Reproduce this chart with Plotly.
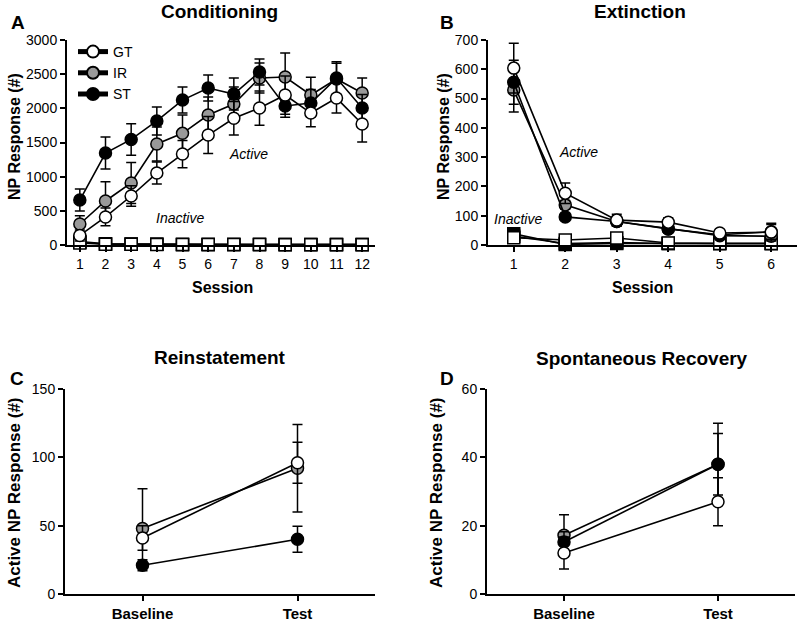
import plotly.graph_objects as go

# ---------------- data ----------------
groups = ["GT", "IR", "ST"]
group_fill = {"GT": "white", "IR": "#999999", "ST": "black"}

sessions_cond = [1, 2, 3, 4, 5, 6, 7, 8, 9, 10, 11, 12]
cond_active_gt = [140, 410, 717, 1053, 1331, 1609, 1855, 2004, 2195, 1931, 2150, 1770]
cond_active_ir = [307, 644, 907, 1478, 1634, 1902, 2063, 2443, 2458, 2195, 2430, 2224]
cond_active_st = [658, 1346, 1545, 1815, 2121, 2297, 2209, 2531, 2034, 2077, 2443, 2004]
cond_err_gt = [80, 130, 150, 160, 200, 270, 246, 250, 280, 200, 220, 263]
cond_err_ir = [120, 280, 300, 250, 270, 263, 250, 220, 350, 260, 230, 220]
cond_err_st = [160, 234, 230, 204, 190, 190, 234, 190, 165, 200, 240, 200]
cond_inact_gt = [30, 12, 10, 8, 6, 6, 6, 6, 5, 5, 5, 5]
cond_inact_ir = [40, 15, 12, 10, 8, 8, 7, 7, 6, 6, 6, 6]
cond_inact_st = [50, 18, 14, 10, 9, 8, 8, 7, 7, 6, 6, 6]

sessions_ext = [1, 2, 3, 4, 5, 6]
ext_active_gt = [604, 177, 85, 78, 41, 44]
ext_active_ir = [529, 137, 80, 55, 32, 30]
ext_active_st = [556, 96, 80, 55, 35, 45]
ext_err_gt = [85, 35, 20, 15, 8, 30]
ext_err_ir = [75, 15, 15, 12, 8, 10]
ext_err_st = [75, 8, 10, 10, 8, 25]
ext_inact_gt = [25, 17, 24, 7, 5, 5]
ext_inact_ir = [30, 5, 8, 5, 5, 5]
ext_inact_st = [38, 2, 5, 5, 5, 5]

phases = ["Baseline", "Test"]
rein_gt = [41, 96]
rein_ir = [48, 92]
rein_st = [21, 40]
rein_err_gt = [9, 15]
rein_err_ir = [29, 32]
rein_err_st = [4, 9.5]

spont_gt = [12, 27]
spont_ir = [17.2, 38]
spont_st = [15.2, 38]
spont_err_gt = [4.7, 7]
spont_err_ir = [6, 9]
spont_err_st = [3, 12]

# ---------------- figure ----------------
FONT = "Arial, Liberation Sans, sans-serif"
W, H = 800, 621
fig = go.Figure()

def add_series(x, y, err, grp, xa, ya, symbol="circle", legend=False):
    fig.add_trace(go.Scatter(
        x=x, y=y, mode="lines+markers", name=grp, showlegend=legend,
        xaxis=xa, yaxis=ya, cliponaxis=False,
        line=dict(color="black", width=1.6),
        marker=dict(symbol=symbol, size=12, color=group_fill[grp],
                    line=dict(color="black", width=1.5)),
        error_y=(dict(type="data", array=err, color="black", thickness=1.5, width=5)
                 if err is not None else None),
    ))

order = ["IR", "ST", "GT"]
A = {"GT": (cond_active_gt, cond_err_gt, cond_inact_gt),
     "IR": (cond_active_ir, cond_err_ir, cond_inact_ir),
     "ST": (cond_active_st, cond_err_st, cond_inact_st)}
B = {"GT": (ext_active_gt, ext_err_gt, ext_inact_gt),
     "IR": (ext_active_ir, ext_err_ir, ext_inact_ir),
     "ST": (ext_active_st, ext_err_st, ext_inact_st)}
C = {"GT": (rein_gt, rein_err_gt), "IR": (rein_ir, rein_err_ir), "ST": (rein_st, rein_err_st)}
D = {"GT": (spont_gt, spont_err_gt), "IR": (spont_ir, spont_err_ir), "ST": (spont_st, spont_err_st)}

for g in order:
    add_series(sessions_cond, A[g][2], None, g, "x", "y", symbol="square")
for g in order:
    add_series(sessions_cond, A[g][0], A[g][1], g, "x", "y")
for g in order:
    add_series(sessions_ext, B[g][2], None, g, "x2", "y2", symbol="square")
for g in order:
    add_series(sessions_ext, B[g][0], B[g][1], g, "x2", "y2")
for g in order:
    add_series([0, 1], C[g][0], C[g][1], g, "x3", "y3")
for g in order:
    add_series([0, 1], D[g][0], D[g][1], g, "x4", "y4")

# legend entries (GT, IR, ST order)
for g in groups:
    fig.add_trace(go.Scatter(
        x=[None], y=[None], mode="lines+markers", name=g, showlegend=True,
        xaxis="x", yaxis="y",
        line=dict(color="black", width=1.2),
        marker=dict(symbol="circle", size=12, color=group_fill[g],
                    line=dict(color="black", width=1.5)),
    ))

def px_x(a, b):
    return [a / W, b / W]

def px_y(top, bottom):
    return [1 - bottom / H, 1 - top / H]

axis_common = dict(showline=True, linecolor="black", linewidth=2, ticks="outside",
                   ticklen=5, tickwidth=1.5, tickcolor="black", showgrid=False,
                   zeroline=False, automargin=False,
                   tickfont=dict(family=FONT, size=14, color="black"))
cat_axis = {k: v for k, v in axis_common.items() if k != "tickfont"}

fig.update_layout(
    template="none",
    width=W, height=H, margin=dict(l=0, r=0, t=0, b=0, pad=0, autoexpand=False),
    paper_bgcolor="white", plot_bgcolor="white",
    font=dict(family=FONT, color="black"),
    showlegend=True,
    legend=dict(x=73 / W, y=1 - 36 / H, xanchor="left", yanchor="top",
                bgcolor="rgba(0,0,0,0)", font=dict(family=FONT, size=14),
                tracegroupgap=0, itemsizing="constant"),
    xaxis=dict(domain=px_x(67, 375), anchor="y", range=[0.5, 12.5],
               tickvals=sessions_cond, **axis_common),
    yaxis=dict(domain=px_y(40, 245), anchor="x", range=[0, 3000], dtick=500, **axis_common),
    xaxis2=dict(domain=px_x(488, 797), anchor="y2", range=[0.5, 6.5],
                tickvals=sessions_ext, **axis_common),
    yaxis2=dict(domain=px_y(40, 245), anchor="x2", range=[0, 700], dtick=100, **axis_common),
    xaxis3=dict(domain=px_x(65, 375), anchor="y3", range=[-0.5, 1.5],
                tickvals=[0, 1], ticktext=["<b>%s</b>" % p for p in phases],
                tickfont=dict(family=FONT, size=15, color="black"), **cat_axis),
    yaxis3=dict(domain=px_y(389, 594), anchor="x3", range=[0, 150], dtick=50, **axis_common),
    xaxis4=dict(domain=px_x(487, 795), anchor="y4", range=[-0.5, 1.5],
                tickvals=[0, 1], ticktext=["<b>%s</b>" % p for p in phases],
                tickfont=dict(family=FONT, size=15, color="black"), **cat_axis),
    yaxis4=dict(domain=px_y(389, 594), anchor="x4", range=[0, 60], dtick=20, **axis_common),
)

def ann(text, x, y, size, bold=False, italic=False, angle=0):
    t = text
    if bold:
        t = "<b>%s</b>" % t
    if italic:
        t = "<i>%s</i>" % t
    fig.add_annotation(text=t, x=x / W, y=1 - y / H, xref="paper", yref="paper",
                       showarrow=False, xanchor="center", yanchor="middle",
                       textangle=angle, font=dict(family=FONT, size=size, color="black"))

# titles
ann("Conditioning", 219, 12, 19, bold=True)
ann("Extinction", 640, 12, 19, bold=True)
ann("Reinstatement", 220, 357, 19, bold=True)
ann("Spontaneous Recovery", 642, 358, 19, bold=True)
# panel letters
ann("A", 18, 22, 19, bold=True)
ann("B", 447, 22, 19, bold=True)
ann("C", 17, 378, 19, bold=True)
ann("D", 447, 378, 19, bold=True)
# axis titles
ann("NP Response (#)", 14, 137, 16, bold=True, angle=-90)
ann("NP Response (#)", 443, 137, 16, bold=True, angle=-90)
ann("Active NP Response (#)", 14, 493, 17, bold=True, angle=-90)
ann("Active NP Response (#)", 436, 493, 17, bold=True, angle=-90)
ann("Session", 222, 287, 16, bold=True)
ann("Session", 642, 287, 16, bold=True)
# in-plot labels
ann("Active", 248, 154, 14, italic=True)
ann("Inactive", 180, 218, 14, italic=True)
ann("Active", 578, 152, 14, italic=True)
ann("Inactive", 518, 219, 14, italic=True)

fig.write_html("out.html", config={"displayModeBar": False},
               post_script="document.body.style.margin='0';document.body.style.overflow='hidden';")
